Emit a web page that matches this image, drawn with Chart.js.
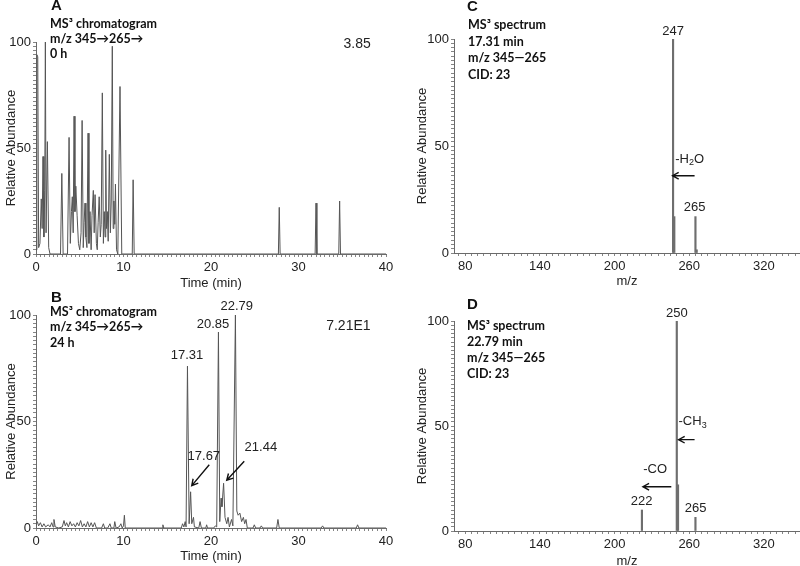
<!DOCTYPE html>
<html><head><meta charset="utf-8">
<script src="https://cdn.jsdelivr.net/npm/chart.js@4.4.0/dist/chart.umd.min.js"></script>
<style>
html,body{margin:0;padding:0;background:#fff;width:800px;height:566px;overflow:hidden;position:relative}
canvas{position:absolute}
</style></head><body>
<canvas id="ca" width="400" height="295" style="left:0;top:0"></canvas>
<canvas id="cb" width="400" height="285" style="left:0;top:281px"></canvas>
<canvas id="cc" width="400" height="293" style="left:400px;top:0"></canvas>
<canvas id="cd" width="400" height="286" style="left:400px;top:283px"></canvas>
<script>
// ---------- data ----------
const timeA = [0,0.1,0.2,0.3,0.45,0.6,0.7,0.8,0.9,1.0,1.07,1.15,1.3,1.45,1.6,2.8,2.95,3.1,3.6,3.78,3.92,4.05,4.15,4.25,4.35,4.45,4.55,4.7,4.85,5.0,5.15,5.27,5.4,5.5,5.6,5.7,5.82,5.95,6.05,6.17,6.3,6.4,6.55,6.65,6.75,6.9,7.0,7.1,7.22,7.35,7.45,7.58,7.7,7.8,7.9,7.97,8.05,8.15,8.25,8.38,8.5,8.6,8.72,8.82,8.9,9.0,9.08,9.2,9.35,9.6,9.8,11.0,11.1,11.22,27.7,27.8,27.9,31.9,32.0,32.1,34.6,34.7,34.8,40];
const abundA = [2,94,93,3,5,26,12,46,8,30,100,10,53,3,0,0,38,0,0,55,5,20,27,10,65,20,32,18,5,2,10,63,3,15,24,8,3,57,5,20,2,18,30,10,28,5,2,15,27,8,14,76,5,20,8,49,12,20,6,47,10,25,98,12,25,14,33,2,0,79,0,0,35,0,0,22,0,0,24,0,0,25,0,0];

const timeB = [0,0.15,0.3,0.5,0.7,0.9,1.1,1.4,1.6,1.8,1.95,2.05,2.2,2.6,3.0,3.2,3.35,3.5,3.7,3.9,4.1,4.3,4.5,4.7,4.9,5.1,5.3,5.5,5.7,5.9,6.1,6.3,6.5,6.7,6.9,7.5,7.7,7.85,8.2,8.45,8.6,8.9,9.0,9.15,9.5,9.7,9.85,10.0,10.1,10.2,14.4,14.5,14.6,16.6,16.75,16.9,17.05,17.15,17.31,17.5,17.67,17.8,18.0,18.1,18.6,18.75,18.9,19.4,19.5,19.6,20.3,20.5,20.65,20.85,21.0,21.15,21.25,21.44,21.6,21.8,21.95,22.1,22.35,22.5,22.79,22.95,23.1,23.3,23.5,23.7,23.85,24.0,24.15,24.8,24.95,25.1,25.6,25.75,25.9,27.5,27.65,27.8,32.6,32.75,32.9,36.6,36.75,36.9,40];
const abundB = [1,3,1,2.5,0.5,2,0.5,1.5,0.5,2.5,0.5,4,0.5,0,0.5,3.5,1,2.5,0.5,3,1,2,0.5,2.5,1,3.5,0.5,2,0.5,3,0.5,2.5,0.5,2.5,0,0,2,0,0,2,0,0,3,0,0.5,2,0,1,6,0,0,1.5,0,0,2,0.5,3,0.5,76,2,17,2,5,0.5,0,3,0,0,1.5,0,0,1,0.5,92,3,14,10,21,5,2,5,0.5,4,1,100,8,6,7,3,5,2,4,0,0,1.5,0,0,1,0,0,4,0,0,1,0,0,1.5,0,0];

const mzC = [247, 248, 265, 266];
const intC = [100, 17, 17, 1.5];
const mzD = [222, 250, 251, 265];
const intD = [10, 100, 22, 6.5];

const timeMajor = [0, 10, 20, 30, 40];
const mzMajor = [80, 140, 200, 260, 320];
const yMajor = [0, 50, 100];

// annotations in data units
const labelsA = [{parts:[{t:'3.85'}], x:36.7, y:99, size:14}];
const labelsB = [
  {parts:[{t:'17.31'}], x:17.26, y:81},
  {parts:[{t:'20.85'}], x:20.23, y:95.4},
  {parts:[{t:'22.79'}], x:22.94, y:104},
  {parts:[{t:'17.67'}], x:19.18, y:33.7},
  {parts:[{t:'21.44'}], x:25.7, y:37.6},
  {parts:[{t:'7.21E1'}], x:35.7, y:94.8, size:14}
];
const arrowsB = [
  {x1:19.8, y1:29.7, x2:17.8, y2:19.9},
  {x1:23.8, y1:31.3, x2:21.8, y2:22.4}
];
const labelsC = [
  {parts:[{t:'247'}], x:247, y:103.7},
  {parts:[{t:'265'}], x:264.3, y:21.5},
  {parts:[{t:'-H'},{t:'2',sub:true},{t:'O'}], x:260.3, y:43.9}
];
const arrowsC = [{x1:264.3, y1:36.1, x2:246.6, y2:36.1}];
const labelsD = [
  {parts:[{t:'250'}], x:250, y:103.6},
  {parts:[{t:'222'}], x:221.8, y:14.3},
  {parts:[{t:'265'}], x:265.1, y:10.6},
  {parts:[{t:'-CH'},{t:'3',sub:true}], x:262.7, y:52},
  {parts:[{t:'-CO'}], x:232.6, y:29.2}
];
const arrowsD = [
  {x1:264.3, y1:43.5, x2:251.4, y2:43.5},
  {x1:245.6, y1:21.1, x2:222.8, y2:21.1}
];

const headerA = ['MS³ chromatogram', 'm/z 345→265→', '0 h'];
const headerB = ['MS³ chromatogram', 'm/z 345→265→', '24 h'];
const headerC = ['MS³ spectrum', '17.31 min', 'm/z 345—265', 'CID: 23'];
const headerD = ['MS³ spectrum', '22.79 min', 'm/z 345—265', 'CID: 23'];

// ---------- drawing helpers ----------
const FONT = '"Liberation Sans", Arial, sans-serif';
const HFONT = 'Lato, "DejaVu Sans", sans-serif';
const TXT = '#222';

function drawRich(ctx, parts, cx, cy, size) {
  const big = size + 'px ' + FONT, small = Math.round(size * 0.7) + 'px ' + FONT;
  let w = 0;
  parts.forEach(p => { ctx.font = p.sub ? small : big; p.w = ctx.measureText(p.t).width; w += p.w; });
  let x = cx - w / 2;
  ctx.textAlign = 'left'; ctx.textBaseline = 'middle';
  parts.forEach(p => {
    ctx.font = p.sub ? small : big;
    ctx.fillText(p.t, x, p.sub ? cy + size * 0.3 : cy);
    x += p.w;
  });
}

const annotPlugin = {
  id: 'annot',
  afterDraw(chart, args, opts) {
    const ctx = chart.ctx, xs = chart.scales.x, ys = chart.scales.y;
    ctx.save();
    ctx.fillStyle = '#111';
    if (opts.letter) {
      ctx.font = 'bold 15px ' + FONT; ctx.textAlign = 'left'; ctx.textBaseline = 'middle';
      ctx.fillText(opts.letter.t, opts.letter.px, opts.letter.py);
    }
    (opts.header || []).forEach((t, i) => {
      ctx.font = '700 12.5px ' + HFONT; ctx.textAlign = 'left'; ctx.textBaseline = 'middle';
      ctx.fillText(t, opts.hx, opts.hy + i * opts.hdy);
    });
    ctx.fillStyle = TXT;
    (opts.labels || []).forEach(l => {
      drawRich(ctx, l.parts, xs.getPixelForValue(l.x), ys.getPixelForValue(l.y), l.size || 13);
    });
    ctx.strokeStyle = '#111'; ctx.lineWidth = 1.4;
    (opts.arrows || []).forEach(a => {
      const x1 = xs.getPixelForValue(a.x1), y1 = ys.getPixelForValue(a.y1);
      const x2 = xs.getPixelForValue(a.x2), y2 = ys.getPixelForValue(a.y2);
      const ang = Math.atan2(y1 - y2, x1 - x2), L = 7, s = 0.5;
      ctx.beginPath();
      ctx.moveTo(x1, y1); ctx.lineTo(x2, y2);
      ctx.moveTo(x2 + L * Math.cos(ang + s), y2 + L * Math.sin(ang + s));
      ctx.lineTo(x2, y2);
      ctx.lineTo(x2 + L * Math.cos(ang - s), y2 + L * Math.sin(ang - s));
      ctx.stroke();
    });
    ctx.restore();
  }
};

function yAxis(width, titlePad) {
  return {
    type: 'linear', min: 0, max: 100,
    afterFit: s => { s.width = width; },
    ticks: { stepSize: 2, autoSkip: false, callback: v => yMajor.includes(v) ? String(v) : '',
             font: { family: FONT, size: 13 }, color: TXT, padding: 2 },
    grid: { drawOnChartArea: false, tickLength: 3, color: '#858585' },
    border: { color: '#6a6a6a', width: 1 },
    title: { display: true, text: 'Relative Abundance', font: { family: FONT, size: 13 }, color: TXT,
             padding: { top: titlePad, bottom: 0 } }
  };
}
function xAxis(min, max, step, majors, height, title, titlePadBottom) {
  return {
    type: 'linear', min: min, max: max, offset: false,
    afterFit: s => { s.height = height; },
    ticks: { stepSize: step, autoSkip: false, includeBounds: false, maxRotation: 0, minRotation: 0,
             callback: v => majors.includes(v) ? String(v) : '',
             font: { family: FONT, size: 13 }, color: TXT, padding: 3 },
    grid: { drawOnChartArea: false, tickLength: 3, color: '#858585', offset: false },
    border: { color: '#6a6a6a', width: 1 },
    title: { display: true, text: title, font: { family: FONT, size: 13 }, color: TXT,
             padding: { top: 0, bottom: titlePadBottom } }
  };
}

Chart.defaults.animation = false;

function chromChart(id, times, vals, pad, xHeight, titlePadBottom, annot) {
  return new Chart(document.getElementById(id), {
    type: 'line',
    data: { datasets: [{ data: times.map((t, i) => ({ x: t, y: vals[i] })), borderColor: '#555',
            borderWidth: 1, pointRadius: 0, tension: 0, fill: false }] },
    options: {
      responsive: false, devicePixelRatio: 1, animation: false,
      layout: { padding: pad },
      plugins: { legend: { display: false }, tooltip: { enabled: false }, annot: annot },
      scales: { x: xAxis(0, 40, 0.5, timeMajor, xHeight, 'Time (min)', titlePadBottom), y: yAxis(36, 4) }
    },
    plugins: [annotPlugin]
  });
}
function specChart(id, mz, vals, pad, xHeight, titlePadBottom, annot) {
  return new Chart(document.getElementById(id), {
    type: 'bar',
    data: { datasets: [{ data: mz.map((m, i) => ({ x: m, y: vals[i] })), backgroundColor: '#6e6e6e',
            barThickness: 1.5, borderWidth: 0 }] },
    options: {
      responsive: false, devicePixelRatio: 1, animation: false,
      layout: { padding: pad },
      plugins: { legend: { display: false }, tooltip: { enabled: false }, annot: annot },
      scales: { x: xAxis(71, 349, 5, mzMajor, xHeight, 'm/z', titlePadBottom), y: yAxis(54, 15) }
    },
    plugins: [annotPlugin]
  });
}

chromChart('ca', timeA, abundA, { top: 42, right: 14, left: 0, bottom: 0 }, 41, 4,
  { letter: { t: 'A', px: 51, py: 6 }, header: headerA, hx: 50, hy: 24, hdy: 15, labels: labelsA });
chromChart('cb', timeB, abundB, { top: 34, right: 14, left: 0, bottom: 0 }, 38, 2,
  { letter: { t: 'B', px: 51, py: 17 }, header: headerB, hx: 50, hy: 30.5, hdy: 15.5, labels: labelsB, arrows: arrowsB });
specChart('cc', mzC, intC, { top: 39, right: 0, left: 0, bottom: 0 }, 40, 4,
  { letter: { t: 'C', px: 67, py: 7 }, header: headerC, hx: 68, hy: 25, hdy: 16.7, labels: labelsC, arrows: arrowsC });
specChart('cd', mzD, intD, { top: 38, right: 0, left: 0, bottom: 0 }, 38, 0,
  { letter: { t: 'D', px: 67, py: 21.5 }, header: headerD, hx: 67, hy: 42.7, hdy: 16, labels: labelsD, arrows: arrowsD });
</script>
</body></html>
